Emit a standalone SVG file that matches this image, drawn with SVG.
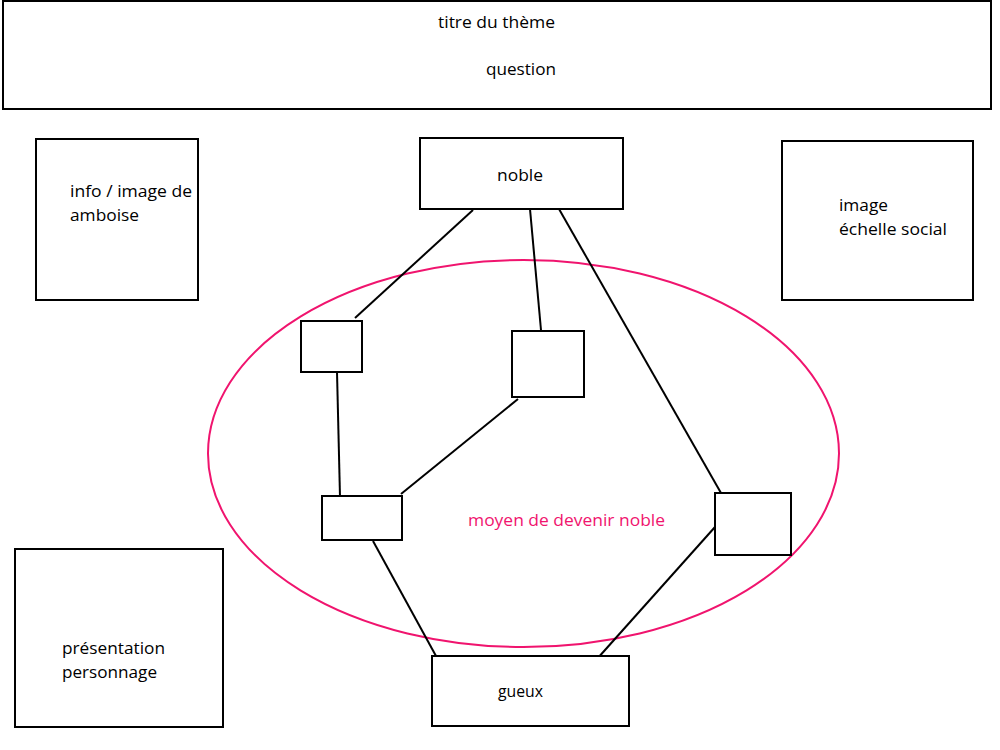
<svg xmlns="http://www.w3.org/2000/svg" width="1000" height="750" viewBox="0 0 1000 750">
<style>
.box{fill:#fff;stroke:#000;stroke-width:2}
.t{font-family:"Open Sans","Noto Sans",sans-serif;font-size:16px;fill:#000}
.edge{stroke:#000;stroke-width:2;fill:none}
.pink{fill:#f0146e}
</style>
<rect width="1000" height="750" fill="#fff"/>
<g id="header">
<rect class="box" x="3" y="1" width="988" height="108"/>
<text class="t" x="438" y="28" textLength="117" lengthAdjust="spacingAndGlyphs">titre du thème</text>
<text class="t" x="486" y="75" textLength="70" lengthAdjust="spacingAndGlyphs">question</text>
</g>
<g id="info-amboise">
<rect class="box" x="36" y="139" width="162" height="161"/>
<text class="t" x="70" y="197" textLength="122" lengthAdjust="spacingAndGlyphs">info / image de</text>
<text class="t" x="70" y="221" textLength="69" lengthAdjust="spacingAndGlyphs">amboise</text>
</g>
<g id="image-echelle">
<rect class="box" x="782" y="141" width="191" height="159"/>
<text class="t" x="839" y="211" textLength="49" lengthAdjust="spacingAndGlyphs">image</text>
<text class="t" x="839" y="235" textLength="108" lengthAdjust="spacingAndGlyphs">échelle social</text>
</g>
<g id="presentation">
<rect class="box" x="15" y="549" width="208" height="178"/>
<text class="t" x="62" y="654" textLength="103" lengthAdjust="spacingAndGlyphs">présentation</text>
<text class="t" x="62" y="678" textLength="95" lengthAdjust="spacingAndGlyphs">personnage</text>
</g>
<g id="ellipse-group">
<ellipse cx="523.5" cy="453.5" rx="315.5" ry="193.5" fill="none" stroke="#f0146e" stroke-width="2"/>
<text class="t pink" x="468" y="526" textLength="197" lengthAdjust="spacingAndGlyphs">moyen de devenir noble</text>
</g>
<g id="connectors">
<line class="edge" x1="473" y1="210" x2="355" y2="318"/>
<line class="edge" x1="530" y1="209" x2="541" y2="330"/>
<line class="edge" x1="559" y1="209" x2="721" y2="493"/>
<line class="edge" x1="337" y1="372" x2="340" y2="497"/>
<line class="edge" x1="518" y1="399" x2="401" y2="494"/>
<line class="edge" x1="373" y1="541" x2="436" y2="656"/>
<line class="edge" x1="715" y1="527" x2="597" y2="659"/>
</g>
<g id="noble">
<rect class="box" x="420" y="138" width="203" height="71"/>
<text class="t" x="497" y="181" textLength="46" lengthAdjust="spacingAndGlyphs">noble</text>
</g>
<g id="node-a"><rect class="box" x="301" y="321" width="61" height="51"/></g>
<g id="node-b"><rect class="box" x="512" y="331" width="72" height="66"/></g>
<g id="node-c"><rect class="box" x="322" y="496" width="80" height="44"/></g>
<g id="node-d"><rect class="box" x="715" y="493" width="76" height="62"/></g>
<g id="gueux">
<rect class="box" x="432" y="656" width="197" height="70"/>
<text class="t" x="498" y="697" textLength="45" lengthAdjust="spacingAndGlyphs">gueux</text>
</g>
</svg>
